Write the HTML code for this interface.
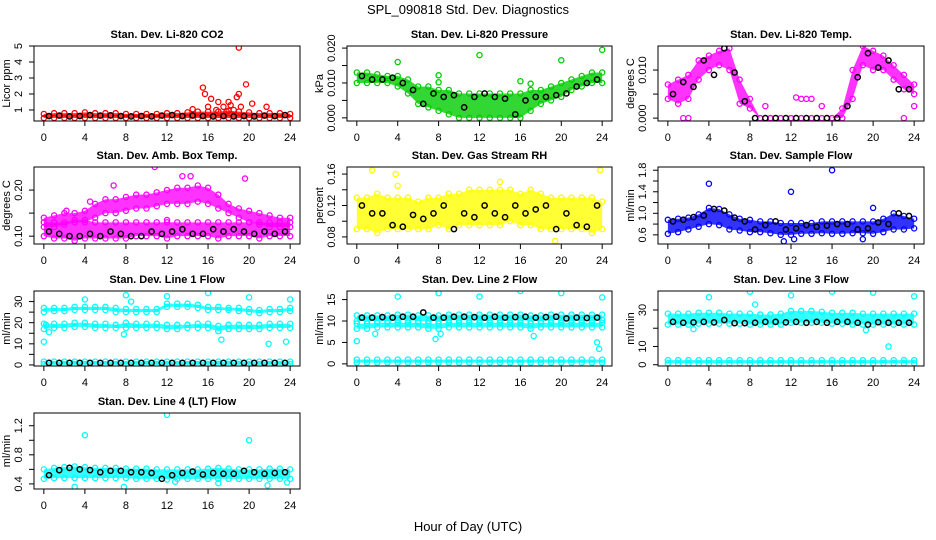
<!DOCTYPE html>
<html><head><meta charset="utf-8"><style>
body{margin:0;background:#fff}
svg{display:block;font-family:"Liberation Sans",sans-serif}
</style></head><body>
<svg id="chart" width="936" height="540" viewBox="0 0 936 540" xmlns="http://www.w3.org/2000/svg">
<rect width="936" height="540" fill="#fff"/>
<text x="468" y="14" text-anchor="middle" font-size="13">SPL_090818  Std. Dev. Diagnostics</text>
<text x="468" y="531" text-anchor="middle" font-size="13">Hour of Day (UTC)</text>
</svg>
<script>
const hours=[0,1,2,3,4,5,6,7,8,9,10,11,12,13,14,15,16,17,18,19,20,21,22,23,24];
const blackHours=[0.5,1.5,2.5,3.5,4.5,5.5,6.5,7.5,8.5,9.5,10.5,11.5,12.5,13.5,14.5,15.5,16.5,17.5,18.5,19.5,20.5,21.5,22.5,23.5];
const xTicks=[0,4,8,12,16,20,24];

const co2Lo=[0.5,0.5,0.5,0.5,0.5,0.5,0.5,0.5,0.5,0.5,0.5,0.5,0.5,0.5,0.5,0.5,0.5,0.5,0.5,0.5,0.5,0.5,0.5,0.5,0.5];
const co2Hi=[0.75,0.8,0.8,0.8,0.85,0.8,0.8,0.8,0.75,0.75,0.75,0.75,0.8,0.8,0.85,0.9,0.9,0.9,0.95,0.9,0.85,0.8,0.8,0.8,0.75];
const co2Black=[0.62,0.65,0.6,0.62,0.68,0.65,0.66,0.62,0.6,0.62,0.6,0.65,0.68,0.62,0.65,0.62,0.6,0.62,0.6,0.62,0.6,0.65,0.62,0.68];
const co2OutX=[15.5,15.7,16.3,17,18,18.8,19,19,19.7,20.3,21.7,14.5,16,17.5,18.2,19.2,16.8,17.8,18.5];
const co2OutY=[2.4,2.0,1.7,1.5,1.5,1.8,2.0,4.9,2.6,1.4,1.2,1.05,1.2,1.2,1.3,1.2,1.0,0.9,1.0];

const presLo=[.010,.010,.010,.010,.009,.007,.004,.003,.002,.001,.000,.000,.000,.000,.000,.000,.000,.002,.004,.005,.006,.008,.009,.010,.010];
const presHi=[.013,.013,.0125,.012,.012,.011,.009,.009,.008,.008,.007,.007,.007,.007,.007,.007,.007,.008,.008,.009,.010,.011,.012,.013,.013];
const presBlack=[.012,.011,.011,.0115,.010,.008,.004,.007,.006,.0065,.003,.006,.007,.006,.0055,.001,.005,.006,.006,.0065,.007,.009,.010,.011];
const presOutX=[4,8,8,12,16,17,20,24];
const presOutY=[.016,.0122,.0102,.018,.0105,.0098,.0165,.0195];

const tempLo=[.004,.003,.004,.008,.010,.011,.010,.003,.002,0,0,0,0,0,0,0,0,0,.004,.011,.010,.010,.008,.006,.005];
const tempHi=[.007,.008,.009,.012,.013,.014,.0145,.008,.004,0,0,0,0,0,0,0,0,.002,.010,.015,.014,.013,.011,.009,.007];
const tempBlack=[.005,.0075,.0065,.012,.009,.0145,.0095,.0035,0,0,0,0,0,0,0,0,0,.0025,.0085,.0135,.0105,.012,.006,.006];
const tempOutX=[1.5,2,9.5,12.5,13,13.5,14,15,23,24];
const tempOutY=[0,0,.0025,.0043,.004,.004,.004,.0025,0,.0025];

const ambLo1=[.10,.095,.095,.09,.095,.095,.095,.095,.095,.10,.10,.10,.095,.10,.10,.10,.10,.095,.10,.10,.10,.095,.10,.10,.10];
const ambHi1=[.13,.13,.13,.135,.135,.13,.13,.13,.13,.13,.13,.13,.13,.13,.13,.13,.13,.13,.13,.13,.13,.13,.13,.13,.13];
const ambLo2=[.12,.12,.125,.13,.13,.14,.15,.15,.155,.16,.16,.165,.17,.17,.17,.175,.17,.16,.15,.14,.13,.125,.12,.12,.12];
const ambHi2=[.14,.145,.15,.15,.155,.17,.18,.18,.185,.19,.19,.195,.20,.205,.205,.21,.205,.19,.17,.16,.155,.15,.145,.14,.14];
const ambBlack=[.11,.105,.10,.10,.105,.10,.11,.105,.10,.10,.11,.105,.11,.115,.105,.105,.115,.11,.115,.11,.105,.11,.105,.11];
const ambOutX=[2.2,4.5,6.8,10.8,13.5,14.3,19.6,12];
const ambOutY=[.155,.175,.21,.25,.23,.23,.225,.135];

const rhLo=[.09,.09,.085,.09,.09,.09,.09,.09,.095,.09,.095,.095,.095,.095,.095,.10,.095,.095,.09,.09,.09,.09,.09,.085,.09];
const rhHi=[.13,.13,.135,.13,.13,.13,.125,.13,.13,.135,.135,.14,.14,.14,.14,.14,.135,.14,.135,.13,.13,.13,.13,.13,.125];
const rhBlack=[.12,.11,.11,.095,.093,.108,.103,.11,.12,.09,.11,.105,.12,.11,.105,.12,.11,.115,.12,.09,.11,.095,.093,.12];
const rhOutX=[1.5,14,19.4,4,3.8,23.8];
const rhOutY=[.165,.15,.075,.145,.16,.165];

const sfLo=[.62,.65,.7,.75,.8,.78,.7,.68,.65,.65,.63,.6,.6,.62,.62,.63,.62,.62,.63,.63,.62,.65,.7,.7,.72];
const sfHi=[.88,.9,.92,.98,1.1,1.08,.98,.9,.88,.85,.85,.82,.82,.82,.82,.85,.85,.85,.85,.85,.85,.9,1.0,.95,.9];
const sfBlack=[.85,.88,.93,.96,1.08,1.05,.92,.85,.70,.78,.85,.70,.72,.78,.75,.77,.80,.80,.70,.72,.83,.80,1.0,.95];
const sfOutX=[4,12,16,20,11.3,12.3,19];
const sfOutY=[1.55,1.4,1.8,1.1,.48,.52,.52];

const l1aLo=[25,25.5,25.5,26,26,26,26,25,25,25,25,25,27.5,27.5,27.5,27,26,26,26,25.5,25,24.5,25,25,25.5];
const l1aHi=[27,27,27,27.5,27.5,27.5,27.5,27,26.5,26.5,26.5,26.5,29,29,29,28.5,27.5,27.5,27,27,26.5,26,26.5,26.5,27];
const l1bLo=[17,17.5,17.5,18,18,17.5,17.5,17.5,17.5,17.5,17.5,17.5,17,17,17.5,17.5,17.5,16,17,17,17,17,17.5,17.5,17.5];
const l1bHi=[19.5,19.5,19.5,20,20,19.5,19.5,19,20,19.5,19.5,19.5,19,19,19,19.5,19.5,18.5,19,19,19,19,19.5,19.5,19.5];
const l1cLo=[0.4,0.4,0.4,0.4,0.4,0.4,0.4,0.4,0.4,0.4,0.4,0.4,0.4,0.4,0.4,0.4,0.4,0.4,0.4,0.4,0.4,0.4,0.4,0.4,0.4];
const l1cHi=[1.6,1.6,1.6,1.6,1.6,1.6,1.6,1.6,1.6,1.6,1.6,1.6,1.6,1.6,1.6,1.6,1.6,1.6,1.6,1.6,1.6,1.6,1.6,1.6,1.6];
const l1Black=[1,1,1,1,1,1,1,1,1,1,1,1,1,1,1,1,1,1,1,1,1,1,1,1];
const l1OutX=[0,0.2,4,8,8.5,12,16,20,24,21.9,23.6,17.3,7.8,0.5];
const l1OutY=[11,19,31,33,30,32.5,34,32,31,10,11,12,14.5,15.5];

const l2aLo=[10,10,10,10,10.2,10.2,10,10,10,10.2,10.2,10.2,10.2,10.2,10.2,10.2,10.2,10,10,10.2,10.2,10.2,10.2,10.2,10.2];
const l2aHi=[11.3,11.3,11.3,11.3,11.5,11.5,11.3,11.3,11.3,11.5,11.5,11.5,11.5,11.5,11.5,11.5,11.5,11.3,11.3,11.5,11.5,11.5,11.5,11.5,11.5];
const l2bLo=[8.2,8.2,8.5,8.5,8.5,8.5,8.5,8.2,8.2,8.5,8.5,8.5,8.5,8.5,8.5,8.5,8.5,8.2,8.5,8.5,8.5,8.5,8.5,8.5,8.5];
const l2bHi=[9.4,9.4,9.6,9.6,9.6,9.6,9.6,9.4,9.4,9.6,9.6,9.6,9.6,9.6,9.6,9.6,9.6,9.4,9.6,9.6,9.6,9.6,9.6,9.6,9.6];
const l2cLo=[0.3,0.3,0.3,0.3,0.3,0.3,0.3,0.3,0.3,0.3,0.3,0.3,0.3,0.3,0.3,0.3,0.3,0.3,0.3,0.3,0.3,0.3,0.3,0.3,0.3];
const l2cHi=[1,1,1,1,1,1,1,1,1,1,1,1,1,1,1,1,1,1,1,1,1,1,1,1,1];
const l2Black=[10.8,10.8,10.9,10.8,11,11,12,10.8,10.8,11,11,10.9,10.8,11,10.8,10.9,11,10.8,10.9,11,10.6,10.8,10.7,10.8];
const l2OutX=[0,4,8,12,16,20,24,7.7,8.2,1.8,23.5,23.7,17.3];
const l2OutY=[5.3,15.7,16.5,15.7,17,16.5,15.5,5.8,7,7,5,3.5,6.5];

const l3aLo=[22,22,22,22.5,22.5,22.5,22.5,22.5,22,22,22,22,23,23,23,23,22.5,22.5,22,22,22,22,22,22,22];
const l3aHi=[28,28,28,28.5,28.5,28.5,28,28,28,27.5,27.5,28,29.5,29.5,29.5,29,28.5,28.5,28.5,28,28,28,28,28,28];
const l3cLo=[0.8,0.8,0.8,0.8,0.8,0.8,0.8,0.8,0.8,0.8,0.8,0.8,0.8,0.8,0.8,0.8,0.8,0.8,0.8,0.8,0.8,0.8,0.8,0.8,0.8];
const l3cHi=[2.5,2.5,2.5,2.5,2.5,2.5,2.5,2.5,2.5,2.5,2.5,2.5,2.5,2.5,2.5,2.5,2.5,2.5,2.5,2.5,2.5,2.5,2.5,2.5,2.5];
const l3Black=[23.5,23,23.2,23.5,23.2,24.5,22.8,22.8,23,23.5,23.5,23.2,23.5,23,23.5,23,23.5,23.5,23,22,23.3,23,23,23];
const l3OutX=[4,8,12,16,20,24,2.5,21.5,19.3,8.5];
const l3OutY=[37,40,38,40,39.5,37.5,19.5,10,19,33];

const l4Lo=[.47,.48,.48,.48,.48,.48,.48,.48,.48,.47,.47,.47,.46,.47,.47,.47,.47,.47,.47,.47,.47,.47,.47,.47,.47];
const l4Hi=[.6,.62,.63,.64,.63,.62,.62,.62,.61,.61,.61,.6,.6,.6,.6,.6,.61,.62,.61,.6,.6,.6,.61,.61,.6];
const l4Black=[.52,.59,.62,.6,.59,.56,.58,.58,.56,.56,.55,.47,.52,.55,.57,.53,.55,.54,.54,.58,.56,.54,.55,.56];
const l4OutX=[4,12,20,3,7.8,21.8,12.8,17,23.7];
const l4OutY=[1.07,1.35,1.0,.36,.36,.38,.43,.41,.42];

const svg=document.getElementById('chart');
const NS='http://www.w3.org/2000/svg';
function mk(tag,attrs,parent){const e=document.createElementNS(NS,tag);for(const k in attrs)e.setAttribute(k,attrs[k]);(parent||svg).appendChild(e);return e;}

function panel(p){
  const g=mk('g',{});
  
  
  const L=p.box[0],R=p.box[1],T=p.box[2],B=p.box[3];
  const xs=h=>L+(h+0.96)/25.92*(R-L);
  const ys=v=>B-(v-p.ymin)/(p.ymax-p.ymin)*(B-T);
  const cp=mk('clipPath',{id:'c'+p.name},g);
  mk('rect',{x:L,y:T,width:R-L,height:B-T},cp);
  const marks=mk('g',{'clip-path':'url(#c'+p.name+')'},g);
  p.bands.forEach(b=>{
    let pts=hours.map((h,i)=>xs(h)+','+ys(b.lo[i])).concat(hours.slice().reverse().map((h,j)=>{const i=hours.length-1-j;return xs(h)+','+ys(b.hi[i]);}));
    const poly=mk('polygon',{points:pts.join(' '),fill:p.color,opacity:0.8},marks);
    
    
    hours.forEach((h,i)=>{
      [b.lo[i],b.hi[i]].forEach(v=>{
        const c=mk('circle',{cx:xs(h),cy:ys(v),r:2.6,fill:'none',stroke:p.color,'stroke-width':1.3},marks);
        
        
      });
    });
  });
  p.outX.forEach((h,i)=>{
    const c=mk('circle',{cx:xs(h),cy:ys(p.outY[i]),r:2.6,fill:'none',stroke:p.color,'stroke-width':1.3},marks);
    
    
  });
  p.black.forEach((v,i)=>{
    const c=mk('circle',{cx:xs(blackHours[i]),cy:ys(v),r:2.6,fill:'none',stroke:'#000','stroke-width':1.5},marks);
    
    
  });
  const box=mk('rect',{x:L,y:T,width:R-L,height:B-T,fill:'none',stroke:'#000','stroke-width':1},g);
  
  
  mk('line',{x1:xs(0),x2:xs(24),y1:B,y2:B,stroke:'#000'},g);
  xTicks.forEach(t=>{
    mk('line',{x1:xs(t),x2:xs(t),y1:B,y2:B+5,stroke:'#000'},g);
    const tx=mk('text',{x:xs(t),y:B+20,'text-anchor':'middle','font-size':11},g);
    tx.textContent=t;
    
    
  });
  mk('line',{x1:L,x2:L,y1:ys(p.yt[0]),y2:ys(p.yt[p.yt.length-1]),stroke:'#000'},g);
  p.yt.forEach((t,i)=>{
    mk('line',{x1:L-5,x2:L,y1:ys(t),y2:ys(t),stroke:'#000'},g);
    if(p.yl[i]!==''){
      const tx=mk('text',{x:L-12,y:ys(t),'text-anchor':'middle','font-size':11,transform:'rotate(-90 '+(L-12)+' '+ys(t)+')'},g);
      tx.textContent=p.yl[i];
      
      
    }
  });
  const yl=mk('text',{x:L-24,y:(T+B)/2,'text-anchor':'middle','font-size':11,transform:'rotate(-90 '+(L-24)+' '+((T+B)/2)+')'},g);
  yl.textContent=p.ylab;
  
  
  const ti=mk('text',{x:(L+R)/2,y:T-8,'text-anchor':'middle','font-size':11,'font-weight':'bold'},g);
  ti.textContent=p.title;
  
  
}
const C=[[34,300],[347,612],[658,924]], Rw=[[46,121],[167,244],[291,366],[413,489]];
const bx=(c,r)=>[C[c][0],C[c][1],Rw[r][0],Rw[r][1]];
panel({name:'panel-co2',title:'Stan. Dev. Li-820 CO2',ylab:'Licor ppm',box:bx(0,0),ymin:0.31,ymax:5.0,yt:[1,2,3,4,5],yl:['1','2','3','4','5'],color:'#ff0000',bands:[{lo:co2Lo,hi:co2Hi}],outX:co2OutX,outY:co2OutY,black:co2Black});
panel({name:'panel-pressure',title:'Stan. Dev. Li-820 Pressure',ylab:'kPa',box:bx(1,0),ymin:-0.0009,ymax:0.0206,yt:[0,.005,.01,.015,.02],yl:['0.000','','0.010','','0.020'],color:'#00cd00',bands:[{lo:presLo,hi:presHi}],outX:presOutX,outY:presOutY,black:presBlack});
panel({name:'panel-li820-temp',title:'Stan. Dev. Li-820 Temp.',ylab:'degrees C',box:bx(2,0),ymin:-0.0006,ymax:0.015,yt:[0,.005,.01],yl:['0.000','','0.010'],color:'#ff00ff',bands:[{lo:tempLo,hi:tempHi}],outX:tempOutX,outY:tempOutY,black:tempBlack});
panel({name:'panel-amb-box-temp',title:'Stan. Dev. Amb. Box Temp.',ylab:'degrees C',box:bx(0,1),ymin:0.083,ymax:0.25,yt:[.1,.15,.2],yl:['0.10','','0.20'],color:'#ff00ff',bands:[{lo:ambLo1,hi:ambHi1},{lo:ambLo2,hi:ambHi2}],outX:ambOutX,outY:ambOutY,black:ambBlack});
panel({name:'panel-gas-rh',title:'Stan. Dev. Gas Stream RH',ylab:'percent',box:bx(1,1),ymin:0.071,ymax:0.169,yt:[.08,.1,.12,.14,.16],yl:['0.08','','0.12','','0.16'],color:'#ffff00',bands:[{lo:rhLo,hi:rhHi}],outX:rhOutX,outY:rhOutY,black:rhBlack});
panel({name:'panel-sample-flow',title:'Stan. Dev. Sample Flow',ylab:'ml/min',box:bx(2,1),ymin:0.43,ymax:1.86,yt:[.6,.8,1,1.2,1.4,1.6,1.8],yl:['0.6','','1.0','','1.4','','1.8'],color:'#0000ff',bands:[{lo:sfLo,hi:sfHi}],outX:sfOutX,outY:sfOutY,black:sfBlack});
panel({name:'panel-line1-flow',title:'Stan. Dev. Line 1 Flow',ylab:'ml/min',box:bx(0,2),ymin:-0.5,ymax:35,yt:[0,5,10,15,20,25,30],yl:['0','','10','','20','','30'],color:'#00ffff',bands:[{lo:l1aLo,hi:l1aHi},{lo:l1bLo,hi:l1bHi},{lo:l1cLo,hi:l1cHi}],outX:l1OutX,outY:l1OutY,black:l1Black});
panel({name:'panel-line2-flow',title:'Stan. Dev. Line 2 Flow',ylab:'ml/min',box:bx(1,2),ymin:-0.5,ymax:17,yt:[0,5,10,15],yl:['0','5','10','15'],color:'#00ffff',bands:[{lo:l2aLo,hi:l2aHi},{lo:l2bLo,hi:l2bHi},{lo:l2cLo,hi:l2cHi}],outX:l2OutX,outY:l2OutY,black:l2Black});
panel({name:'panel-line3-flow',title:'Stan. Dev. Line 3 Flow',ylab:'ml/min',box:bx(2,2),ymin:-0.7,ymax:40.4,yt:[0,10,20,30],yl:['0','10','','30'],color:'#00ffff',bands:[{lo:l3aLo,hi:l3aHi},{lo:l3cLo,hi:l3cHi}],outX:l3OutX,outY:l3OutY,black:l3Black});
panel({name:'panel-line4-flow',title:'Stan. Dev. Line 4 (LT) Flow',ylab:'ml/min',box:bx(0,3),ymin:0.33,ymax:1.375,yt:[.4,.6,.8,1,1.2],yl:['0.4','','0.8','','1.2'],color:'#00ffff',bands:[{lo:l4Lo,hi:l4Hi}],outX:l4OutX,outY:l4OutY,black:l4Black});
</script>
</body></html>
